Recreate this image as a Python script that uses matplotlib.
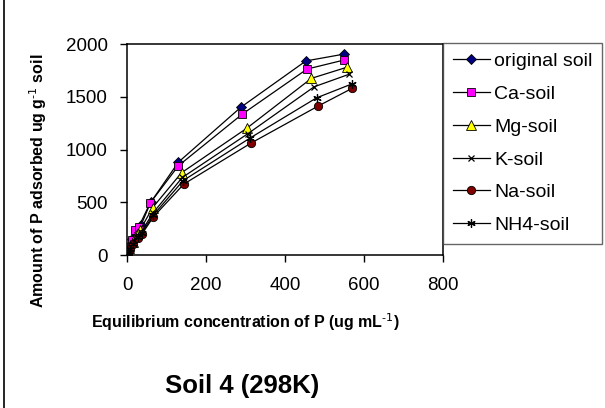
import numpy as np
import matplotlib.pyplot as plt
from matplotlib.lines import Line2D

plt.rcParams['font.family'] = ['Liberation Sans', 'DejaVu Sans']

# equilibrium concentration (x) and amount adsorbed (y) for each soil
x_orig = [0, 1, 4, 12, 25, 35, 60, 130, 288, 453, 550]
y_orig = [10, 40, 90, 150, 250, 280, 500, 880, 1400, 1840, 1905]
x_ca = [0, 1, 5, 12, 20, 30, 58, 130, 292, 456, 549]
y_ca = [8, 35, 80, 145, 240, 270, 490, 846, 1336, 1763, 1848]
x_mg = [0, 2, 6, 14, 24, 33, 65, 138, 303, 467, 556]
y_mg = [6, 30, 70, 125, 200, 237, 450, 780, 1201, 1675, 1779]
x_k = [0, 2, 6, 15, 26, 36, 66, 140, 306, 474, 562]
y_k = [5, 27, 65, 115, 185, 220, 400, 735, 1150, 1595, 1713]
x_na = [0, 2, 7, 16, 28, 38, 67, 144, 313, 484, 570]
y_na = [4, 22, 55, 100, 165, 200, 363, 673, 1059, 1412, 1580]
x_nh4 = [0, 2, 7, 16, 27, 37, 67, 142, 312, 480, 569]
y_nh4 = [5, 25, 60, 108, 175, 210, 380, 705, 1110, 1490, 1621]

labels = ['original soil', 'Ca-soil', 'Mg-soil', 'K-soil', 'Na-soil', 'NH4-soil']

fig = plt.figure(figsize=(6.05, 4.08), dpi=100)
ax = fig.add_axes([0.21, 0.375, 0.522, 0.517])

ax.plot(x_orig, y_orig, color='black', lw=0.9, marker='D', ms=5,
        mfc='#000080', mec='black', mew=0.6, label=labels[0])
ax.plot(x_ca, y_ca, color='black', lw=0.9, marker='s', ms=6,
        mfc='#ff00ff', mec='black', mew=0.6, label=labels[1])
ax.plot(x_mg, y_mg, color='black', lw=0.9, marker='^', ms=6.5,
        mfc='#ffff00', mec='black', mew=0.6, label=labels[2])
ax.plot(x_k, y_k, color='black', lw=0.9, marker='x', ms=5,
        mec='black', mew=0.9, label=labels[3])
ax.plot(x_na, y_na, color='black', lw=0.9, marker='o', ms=6,
        mfc='#800000', mec='black', mew=0.6, label=labels[4])
ax.plot(x_nh4, y_nh4, color='black', lw=0.9, marker=(6, 2, 0), ms=6,
        mec='black', mew=0.9, label=labels[5])

ax.set_xlim(0, 800)
ax.set_ylim(0, 2000)
ax.set_xticks([0, 200, 400, 600, 800])
ax.set_yticks([0, 500, 1000, 1500, 2000])
ax.tick_params(direction='out', length=5, width=1, labelsize=13.5)
ax.tick_params(axis='x', pad=11)
ax.tick_params(axis='y', pad=9)
for s in ax.spines.values():
    s.set_linewidth(1.1)

fig.text(0.405, 0.21, r'Equilibrium concentration of P (ug mL$^{\text{-1}}$)',
         ha='center', va='center', fontsize=11.5, fontweight='bold')
fig.text(0.063, 0.556, r'Amount of P adsorbed ug g$^{\text{-1}}$ soil',
         ha='center', va='center', rotation=90, fontsize=11.5, fontweight='bold')
fig.text(0.4, 0.055, 'Soil 4 (298K)', ha='center', va='center',
         fontsize=18.5, fontweight='bold')

leg = fig.legend(loc='upper left', bbox_to_anchor=(0.732, 0.895),
                 fontsize=14, frameon=True, fancybox=False,
                 edgecolor='#404040', handlelength=1.9, labelspacing=0.78,
                 borderpad=0.5, handletextpad=0.25, borderaxespad=0)
leg.get_frame().set_linewidth(1.0)

# outer chart border on the left
fig.add_artist(Line2D([0.007, 0.007], [0, 1], color='black', lw=1.2,
                      transform=fig.transFigure))

fig.savefig('out.png', dpi=100)
